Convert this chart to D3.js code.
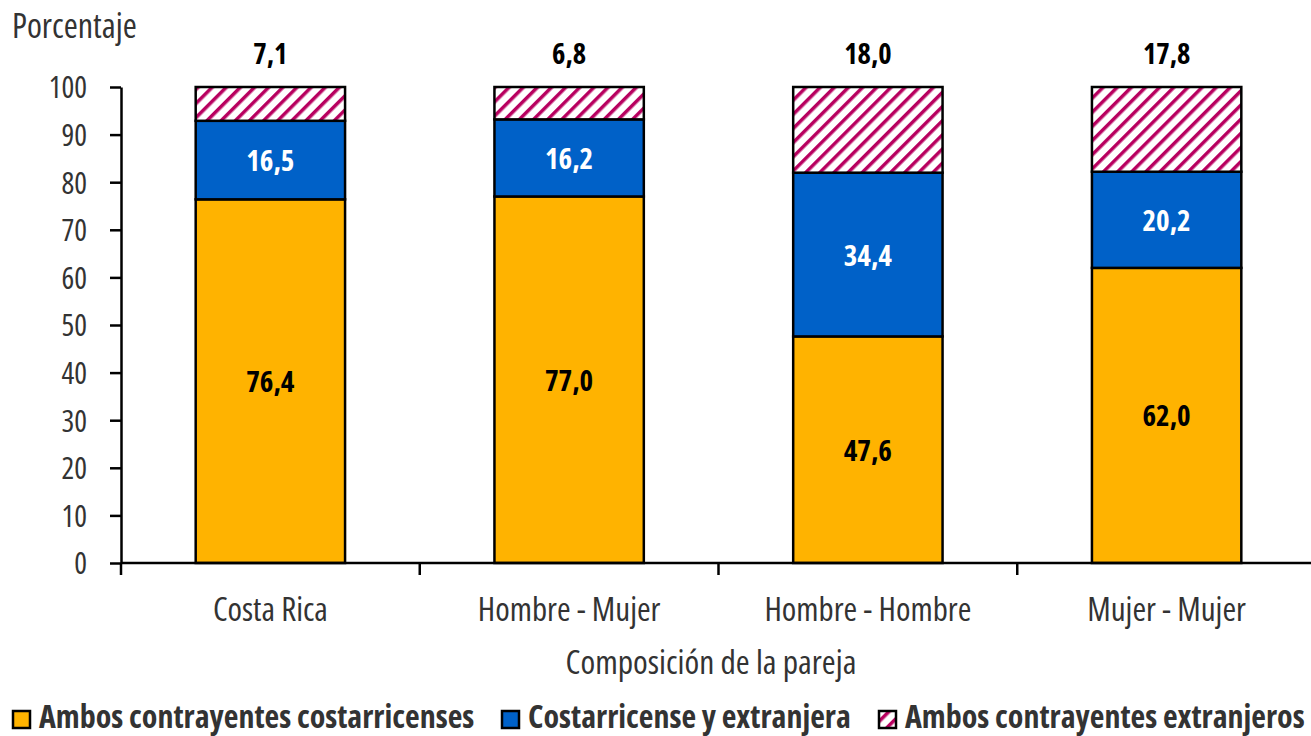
<!DOCTYPE html>
<html><head><meta charset="utf-8">
<script src="https://cdn.jsdelivr.net/npm/d3@7"></script>
<style>
body{margin:0;background:#fff;}
svg text{font-family:"Open Sans","Liberation Sans Narrow","DejaVu Sans Condensed",sans-serif;font-stretch:75%;}
</style></head>
<body>
<svg id="c" width="1311" height="736"></svg>
<script>
const categories = ["Costa Rica","Hombre - Mujer","Hombre - Hombre","Mujer - Mujer"];
const ambosCR = [76.4, 77.0, 47.6, 62.0];
const mixta = [16.5, 16.2, 34.4, 20.2];
const ambosExt = [7.1, 6.8, 18.0, 17.8];
const seriesNames = ["Ambos contrayentes costarricenses","Costarricense y extranjera","Ambos contrayentes extranjeros"];
const yTicks = [0,10,20,30,40,50,60,70,80,90,100];

const svg = d3.select("#c");
const defs = svg.append("defs");
const pat = defs.append("pattern").attr("id","hatch").attr("patternUnits","userSpaceOnUse")
  .attr("width",10).attr("height",10).attr("patternTransform","rotate(45)");
pat.append("rect").attr("width",10).attr("height",10).attr("fill","#fff");
pat.append("rect").attr("x",0).attr("y",0).attr("width",3.5).attr("height",10).attr("fill","#B8005F");

const colors = ["#FFB300","#0061C8","url(#hatch)"];
const x0 = 121, x1 = 1316, yTop = 87, yBot = 563;
const x = d3.scaleBand().domain(categories).range([x0,x1]).paddingInner(0).paddingOuter(0);
const y = d3.scaleLinear().domain([0,100]).range([yBot,yTop]);

const data = categories.map((c,i)=>({cat:c, a:ambosCR[i], b:mixta[i], c2:ambosExt[i]}));
const stack = d3.stack().keys(["a","b","c2"])(data);

const bw = x.bandwidth()*0.5;
stack.forEach((s,si)=>{
  svg.append("g").selectAll("rect").data(s).join("rect")
    .attr("x",d=>x(d.data.cat)+x.bandwidth()/2-bw/2)
    .attr("width",bw)
    .attr("y",d=>y(Math.min(100,d[1])))
    .attr("height",d=>y(d[0])-y(Math.min(100,d[1])))
    .attr("fill",colors[si]).attr("stroke","#000").attr("stroke-width",2.5);
});

// labels
const fmt = v=>d3.format(".1f")(v).replace(".",",");
stack.forEach((s,si)=>{
  svg.append("g").selectAll("text").data(s).join("text")
    .attr("x",d=>x(d.data.cat)+x.bandwidth()/2)
    .attr("y",d=> si===2 ? 64 : y((d[0]+d[1])/2)+11)
    .attr("text-anchor","middle")
    .attr("font-size",si===2?28.5:29).attr("font-weight",700)
    .attr("fill", si===1 ? "#fff" : "#000")
    .text(d=>fmt(d[1]-d[0]));
});

// y axis
const ya = svg.append("g").attr("transform",`translate(${x0},0)`)
  .call(d3.axisLeft(y).tickValues(yTicks).tickSize(11).tickPadding(23).tickSizeOuter(0));
ya.select(".domain").attr("stroke","#000").attr("stroke-width",2.5);
ya.selectAll(".tick line").attr("stroke","#000").attr("stroke-width",2.5);
ya.selectAll(".tick text").attr("font-size",30).attr("fill","#333").attr("dy","0.36em")
  .style("font-family",null);

// x axis
const xa = svg.append("g").attr("transform",`translate(0,${yBot})`);
xa.append("line").attr("x1",x0).attr("x2",x1).attr("stroke","#000").attr("stroke-width",2.5);
const bounds = categories.map(c=>x(c)).concat([x1]);
xa.selectAll("line.t").data(bounds).join("line").attr("class","t")
  .attr("x1",d=>d).attr("x2",d=>d).attr("y1",0).attr("y2",12).attr("stroke","#000").attr("stroke-width",2.5);
xa.selectAll("text").data(categories).join("text")
  .attr("x",d=>x(d)+x.bandwidth()/2).attr("y",58).attr("text-anchor","middle")
  .attr("font-size",33).attr("fill","#333").text(d=>d);

svg.append("text").attr("x",711).attr("y",674).attr("text-anchor","middle")
  .attr("font-size",33.5).attr("fill","#333").text("Composición de la pareja");
svg.append("text").attr("x",12).attr("y",38).attr("font-size",34).attr("fill","#333").text("Porcentaje");

// legend
const legX = [12,501,878];
const lg = svg.append("g");
seriesNames.forEach((n,i)=>{
  lg.append("rect").attr("x",legX[i]+1).attr("y",711).attr("width",17).attr("height",17)
    .attr("fill",colors[i]).attr("stroke","#000").attr("stroke-width",2.5);
  lg.append("text").attr("x",legX[i]+27).attr("y",728).attr("font-size",32).attr("font-weight",700)
    .attr("fill","#333").text(n);
});
</script>
</body></html>
